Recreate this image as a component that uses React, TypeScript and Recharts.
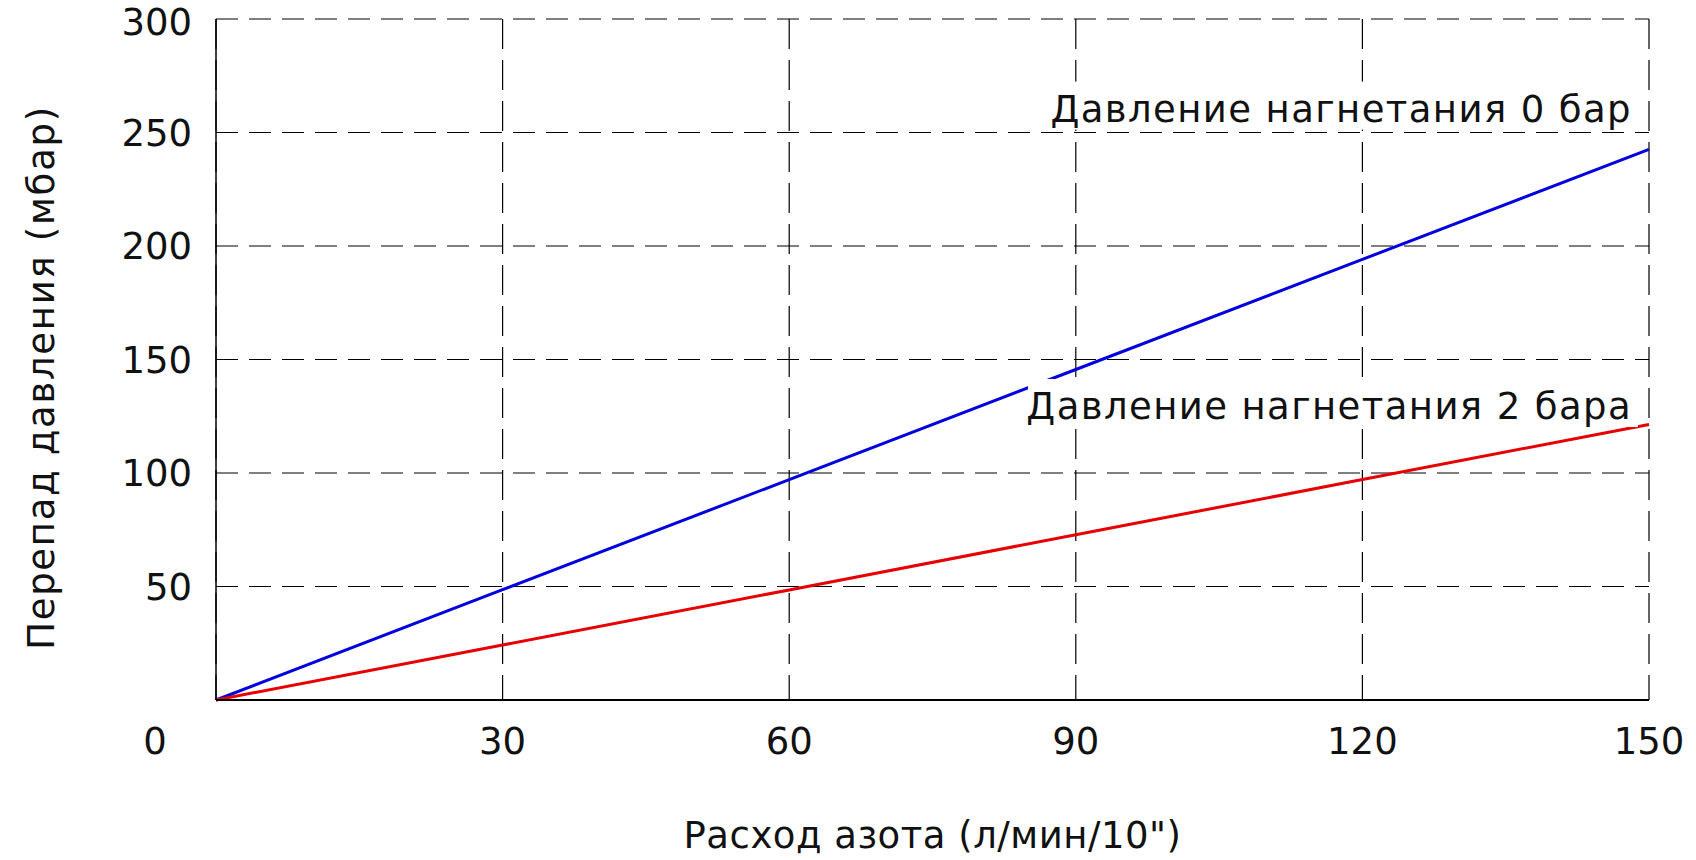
import React from 'react';
import { LineChart, Line, XAxis, YAxis, CartesianGrid, ReferenceDot } from 'recharts';

const flowRates = [0, 30, 60, 90, 120, 150];
const dropAt0Bar = [0, 48.6, 97.1, 145.6, 194.1, 242.6];
const dropAt2Bar = [0, 24.2, 48.5, 72.8, 97.1, 121.4];
const xTicks = [0, 30, 60, 90, 120, 150];
const yTicks = [50, 100, 150, 200, 250, 300];

const data = flowRates.map((x, i) => ({ x, p0: dropAt0Bar[i], p2: dropAt2Bar[i] }));

const FONT = '"DejaVu Sans", sans-serif';
const FS = 37;

const XTick = (props: any) => {
  const { x, y, payload } = props;
  const dx = payload.value === 0 ? -61 : 0;
  return (
    <text x={x + dx} y={y} dy="0.71em" textAnchor="middle" fontFamily={FONT} fontSize={FS} fill="#111">
      {payload.value}
    </text>
  );
};

// white-backed annotation, right-aligned to the anchor point
const Note = (text: string, w: number) => (props: any) => {
  const { cx, cy } = props;
  return (
    <g>
      <rect x={cx - 17 - w} y={cy - 40} width={w + 6} height={48} fill="#fff" />
      <text
        x={cx - 17}
        y={cy}
        textAnchor="end"
        fontFamily={FONT}
        fontSize={FS}
        letterSpacing={1.4}
        fill="#111"
      >
        {text}
      </text>
    </g>
  );
};

const YLabel = (props: any) => {
  const { viewBox } = props;
  const cx = viewBox.x + 41;
  const cy = viewBox.y + viewBox.height / 2 + 18;
  return (
    <text
      x={cx}
      y={cy}
      transform={`rotate(-90, ${cx}, ${cy})`}
      textAnchor="middle"
      dominantBaseline="central"
      fontFamily={FONT}
      fontSize={FS}
      letterSpacing={1.7}
      fill="#111"
    >
      Перепад давления (мбар)
    </text>
  );
};

export default function App() {
  return (
    <div style={{ position: 'absolute', left: 0, top: 0, width: 1696, height: 860, background: '#fff' }}>
      <LineChart width={1696} height={860} data={data} margin={{ top: 19, right: 47, bottom: 0, left: 0 }}>
        <CartesianGrid horizontal vertical={false} stroke="#000" strokeWidth={1.2} strokeDasharray="22 11" />
        <CartesianGrid horizontal={false} vertical stroke="#000" strokeWidth={1.2} strokeDasharray="30 11" />
        <XAxis
          dataKey="x"
          type="number"
          domain={[0, 150]}
          ticks={xTicks}
          height={160}
          axisLine={{ stroke: '#000', strokeWidth: 2 }}
          tickLine={false}
          tickSize={0}
          tickMargin={28}
          tick={<XTick />}
          label={{
            value: 'Расход азота (л/мин/10")',
            position: 'insideBottom',
            offset: 12,
            style: { fontFamily: FONT, fontSize: FS, fill: '#111', letterSpacing: 0.5 },
          }}
        />
        <YAxis
          type="number"
          domain={[0, 300]}
          ticks={yTicks}
          width={216}
          axisLine={{ stroke: '#000', strokeWidth: 1.5 }}
          tickLine={false}
          tickSize={0}
          tickMargin={24}
          tick={{ fontFamily: FONT, fontSize: FS, fill: '#111' }}
          label={<YLabel />}
        />
        <Line dataKey="p0" stroke="#0000dd" strokeWidth={3} dot={false} isAnimationActive={false} />
        <Line dataKey="p2" stroke="#e60000" strokeWidth={3} dot={false} isAnimationActive={false} />
        <ReferenceDot x={150} y={254.8} r={0} shape={Note('Давление нагнетания 0 бар', 584)} />
        <ReferenceDot x={150} y={123.8} r={0} shape={Note('Давление нагнетания 2 бара', 604)} />
      </LineChart>
    </div>
  );
}
